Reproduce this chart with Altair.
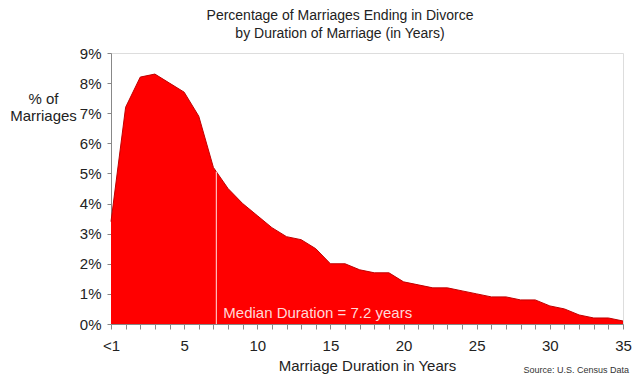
import altair as alt
import pandas as pd

years = list(range(36))
pct = [3.4, 7.2, 8.2, 8.3, 8.0, 7.7, 6.9, 5.2, 4.5, 4.0, 3.6, 3.2, 2.9, 2.8, 2.5, 2.0,
       2.0, 1.8, 1.7, 1.7, 1.4, 1.3, 1.2, 1.2, 1.1, 1.0, 0.9, 0.9, 0.8, 0.8, 0.6, 0.5,
       0.3, 0.2, 0.2, 0.1]
y_ticks = list(range(10))
median_year = [7.2]
median_pct = [5.06]
median_label = ["Median Duration = 7.2 years"]

df = pd.DataFrame({"year": years, "pct": pct})
med = pd.DataFrame({"year": median_year, "pct": median_pct, "zero": [0], "label": median_label})

FONT = "Liberation Sans"

x_scale = alt.Scale(domain=[0, 35], nice=False, zero=False)
y_scale = alt.Scale(domain=[0, 9], nice=False)
x_axis = alt.Axis(values=years,
                  labelExpr="datum.value == 0 ? '<1' : (datum.value % 5 == 0 ? datum.label : '')",
                  title="Marriage Duration in Years", grid=False,
                  tickSize=5, labelPadding=9, titlePadding=5,
                  labelFontSize=15, titleFontSize=15, titleFontWeight="normal",
                  domainColor="#888888", tickColor="#888888",
                  labelColor="#222222", titleColor="#222222",
                  labelFont=FONT, titleFont=FONT, labelFlush=False,
                  labelOverlap=False)
y_axis = alt.Axis(values=y_ticks, labelExpr="datum.value + '%'",
                  title=["% of", "Marriages"], titleAngle=0, titleAlign="center",
                  titleBaseline="middle", titleX=-68, titleY=45,
                  titleFontSize=15, titleFontWeight="normal", titleFont=FONT,
                  titleColor="#222222", grid=False, tickSize=4, labelPadding=6,
                  labelFontSize=15, labelFont=FONT, labelColor="#222222",
                  domainColor="#888888", tickColor="#888888",
                  labelOverlap=False)

area = alt.Chart(df).mark_area(color="#ff0000", opacity=1,
                               line={"color": "#c00000", "strokeWidth": 1}).encode(
    x=alt.X("year:Q", scale=x_scale, axis=x_axis),
    y=alt.Y("pct:Q", scale=y_scale, axis=y_axis))

rule = alt.Chart(med).mark_rule(color="#ffe0e0", strokeWidth=1).encode(
    x=alt.X("year:Q", scale=x_scale, axis=x_axis),
    y=alt.Y("zero:Q", scale=y_scale, axis=y_axis), y2="pct:Q")

label = alt.Chart(med).mark_text(align="left", baseline="alphabetic", dx=7, dy=-6,
                                 fontSize=15, font=FONT, color="#ffd8d8").encode(
    x=alt.X("year:Q", scale=x_scale, axis=x_axis),
    y=alt.Y("zero:Q", scale=y_scale, axis=y_axis), text="label:N")

source = alt.Chart(med).mark_text(align="right", baseline="middle", fontSize=9, font=FONT,
                                  color="#333333", clip=False).encode(
    x=alt.value(518), y=alt.value(317), text=alt.value("Source: U.S. Census Data"))

chart = alt.layer(area, rule, label, source).properties(
    width=512, height=271,
    autosize=alt.AutoSizeParams(type="none"),
    padding={"left": 103, "top": 45, "right": 9, "bottom": 56},
    title=alt.TitleParams(["Percentage of Marriages Ending in Divorce",
                           "by Duration of Marriage (in Years)"],
                          fontSize=14, font=FONT, fontWeight="normal", color="#222222",
                          anchor="middle", dx=-27, offset=5, lineHeight=18),
).configure_view(stroke=None).configure(background="white")

chart.save("out.html", embed_options={"renderer": "svg", "actions": False})
